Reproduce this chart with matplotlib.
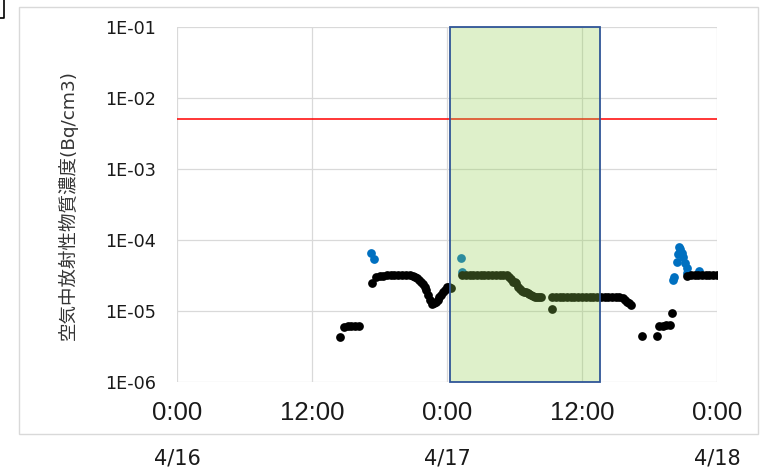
import matplotlib
matplotlib.use("Agg")
import math
import matplotlib.pyplot as plt
from matplotlib.patches import Rectangle
from matplotlib.lines import Line2D
from matplotlib.ticker import FixedLocator, FuncFormatter, NullLocator
import matplotlib.transforms as mtransforms

# hours counted from 4/16 0:00
black_hours = [
    14.50, 14.83, 15.17, 15.50, 15.83, 16.17,
    17.33, 17.67, 18.00, 18.33, 18.67, 19.00, 19.33, 19.67, 20.00, 20.33, 20.67,
    21.00, 21.17, 21.33, 21.50, 21.67, 21.83, 22.00, 22.17, 22.33, 22.50, 22.67,
    22.83, 23.00, 23.17, 23.33, 23.50, 23.67, 23.83, 24.00, 24.17, 24.33,
    25.33, 25.67, 26.00, 26.33, 26.67, 27.00, 27.33, 27.67, 28.00, 28.33, 28.67,
    29.00, 29.33, 29.50, 29.67, 29.83, 30.00, 30.17, 30.33, 30.50, 30.67, 30.83,
    31.00, 31.17, 31.33, 31.50, 31.67, 31.83, 32.00, 32.17, 32.33,
    33.33, 33.33, 33.67, 34.00, 34.33, 34.67, 35.00, 35.33, 35.67, 36.00, 36.33,
    36.67, 37.00, 37.33, 37.67, 38.00, 38.33, 38.67, 39.00, 39.33, 39.67, 39.83,
    40.00, 40.17, 40.33,
    41.33, 42.67, 42.83, 43.17, 43.50, 43.83, 44.00,
    45.33, 45.67, 46.00, 46.33, 46.67, 47.00, 47.33, 47.67, 47.97,
]
black_vals = [
    4.3e-6, 6.0e-6, 6.2e-6, 6.2e-6, 6.2e-6, 6.2e-6,
    2.5e-5, 3.0e-5, 3.1e-5, 3.1e-5, 3.2e-5, 3.2e-5, 3.2e-5, 3.2e-5, 3.2e-5, 3.2e-5, 3.2e-5,
    3.1e-5, 3.0e-5, 2.9e-5, 2.75e-5, 2.6e-5, 2.4e-5, 2.2e-5, 1.95e-5, 1.7e-5, 1.45e-5, 1.25e-5,
    1.28e-5, 1.35e-5, 1.45e-5, 1.6e-5, 1.7e-5, 1.85e-5, 2.0e-5, 2.2e-5, 2.15e-5, 2.1e-5,
    3.2e-5, 3.2e-5, 3.2e-5, 3.2e-5, 3.2e-5, 3.2e-5, 3.2e-5, 3.2e-5, 3.2e-5, 3.2e-5, 3.2e-5,
    3.2e-5, 3.2e-5, 3.0e-5, 2.8e-5, 2.6e-5, 2.6e-5, 2.5e-5, 2.2e-5, 2.05e-5, 1.9e-5, 1.85e-5,
    1.85e-5, 1.8e-5, 1.75e-5, 1.7e-5, 1.65e-5, 1.6e-5, 1.6e-5, 1.6e-5, 1.6e-5,
    1.05e-5, 1.55e-5, 1.55e-5, 1.55e-5, 1.55e-5, 1.55e-5, 1.55e-5, 1.55e-5, 1.55e-5, 1.55e-5, 1.55e-5,
    1.55e-5, 1.55e-5, 1.55e-5, 1.55e-5, 1.55e-5, 1.55e-5, 1.55e-5, 1.55e-5, 1.55e-5, 1.5e-5, 1.42e-5,
    1.35e-5, 1.28e-5, 1.22e-5,
    4.5e-6, 4.5e-6, 6.2e-6, 6.2e-6, 6.3e-6, 6.4e-6, 9.5e-6,
    3.1e-5, 3.2e-5, 3.2e-5, 3.2e-5, 3.2e-5, 3.2e-5, 3.2e-5, 3.2e-5, 3.2e-5,
]

blue_hours = [17.25, 17.50, 25.25, 25.33,
              44.10, 44.20, 44.45, 44.50, 44.65, 44.71, 44.86, 45.00, 45.16, 45.31, 45.36,
              46.43]
blue_vals = [6.6e-5, 5.4e-5, 5.6e-5, 3.55e-5,
             2.75e-5, 3.0e-5, 4.9e-5, 6.3e-5, 8.0e-5, 7.4e-5, 6.6e-5, 5.7e-5, 4.8e-5, 4.0e-5, 3.4e-5,
             3.7e-5]

limit_value = 5e-3
span_hours = (24.27, 37.60)
x_ticks = [0, 12, 24, 36, 48]
x_labels = ["0:00", "12:00", "0:00", "12:00", "0:00"]
date_hours = [0, 24, 48]
date_labels = ["4/16", "4/17", "4/18"]
y_ticks = [1e-6, 1e-5, 1e-4, 1e-3, 1e-2, 1e-1]
ylabel = "空気中放射性物質濃度(Bq/cm3)"

W, H = 760, 471
fig = plt.figure(figsize=(W / 100, H / 100), dpi=100)
ax = fig.add_axes([177 / W, 1 - 382 / H, 540 / W, 355 / H])

ax.set_yscale("log")
ax.set_xlim(0, 48)
ax.set_ylim(1e-6, 1e-1)

ax.plot(blue_hours, blue_vals, "o", color="#0070C0", ms=6.3, mew=0, zorder=3)
ax.plot(black_hours, black_vals, "o", color="black", ms=6.3, mew=0, zorder=4)
ax.axhline(limit_value, color="red", lw=1.1, zorder=2)

# shaded period drawn over the data
ax.add_patch(Rectangle((span_hours[0], 1e-6), span_hours[1] - span_hours[0], 1e-1 - 1e-6,
                       facecolor=(146 / 255, 208 / 255, 80 / 255, 0.3),
                       edgecolor="#2F5597", lw=1.3, zorder=5, clip_on=False))

ax.xaxis.set_major_locator(FixedLocator(x_ticks))
ax.set_xticklabels(x_labels, fontfamily="Liberation Sans", fontsize=18.5, color="#1a1a1a")
ax.yaxis.set_major_locator(FixedLocator(y_ticks))
ax.yaxis.set_minor_locator(NullLocator())
ax.yaxis.set_major_formatter(FuncFormatter(lambda v, p: "1E-%02d" % round(-math.log10(v))))
for lab in ax.get_yticklabels():
    lab.set_fontfamily("DejaVu Sans")
    lab.set_fontsize(12.7)
    lab.set_color("#1a1a1a")
ax.tick_params(axis="y", length=0, pad=15)
ax.tick_params(axis="x", length=0, pad=14)
ax.grid(True, color="#D9D9D9", lw=0.9, zorder=0)
ax.set_axisbelow(True)
for s in ax.spines.values():
    s.set_visible(False)

fig.text(68 / W, 1 - 205 / H, ylabel, rotation=90, ha="center", va="center",
         fontsize=13.3, family=["DejaVu Sans", "Noto Sans CJK JP"], color="#333333")

trans = mtransforms.blended_transform_factory(ax.transData, fig.transFigure)
for h, d in zip(date_hours, date_labels):
    ax.text(h, 1 - 458 / H, d, transform=trans, ha="center", va="center",
            fontsize=15, fontfamily="DejaVu Sans", color="#1a1a1a", clip_on=False)

# chart border and corner mark
fig.add_artist(Rectangle((19 / W, 1 - 434 / H), (758 - 19) / W, (434 - 7) / H,
                         transform=fig.transFigure, fill=False, ec="#D9D9D9", lw=1))
fig.add_artist(Line2D([4 / W, 4 / W, 0], [1, 1 - 18 / H, 1 - 18 / H],
                      transform=fig.transFigure, color="black", lw=1.2))

fig.savefig("out.png", dpi=100)
